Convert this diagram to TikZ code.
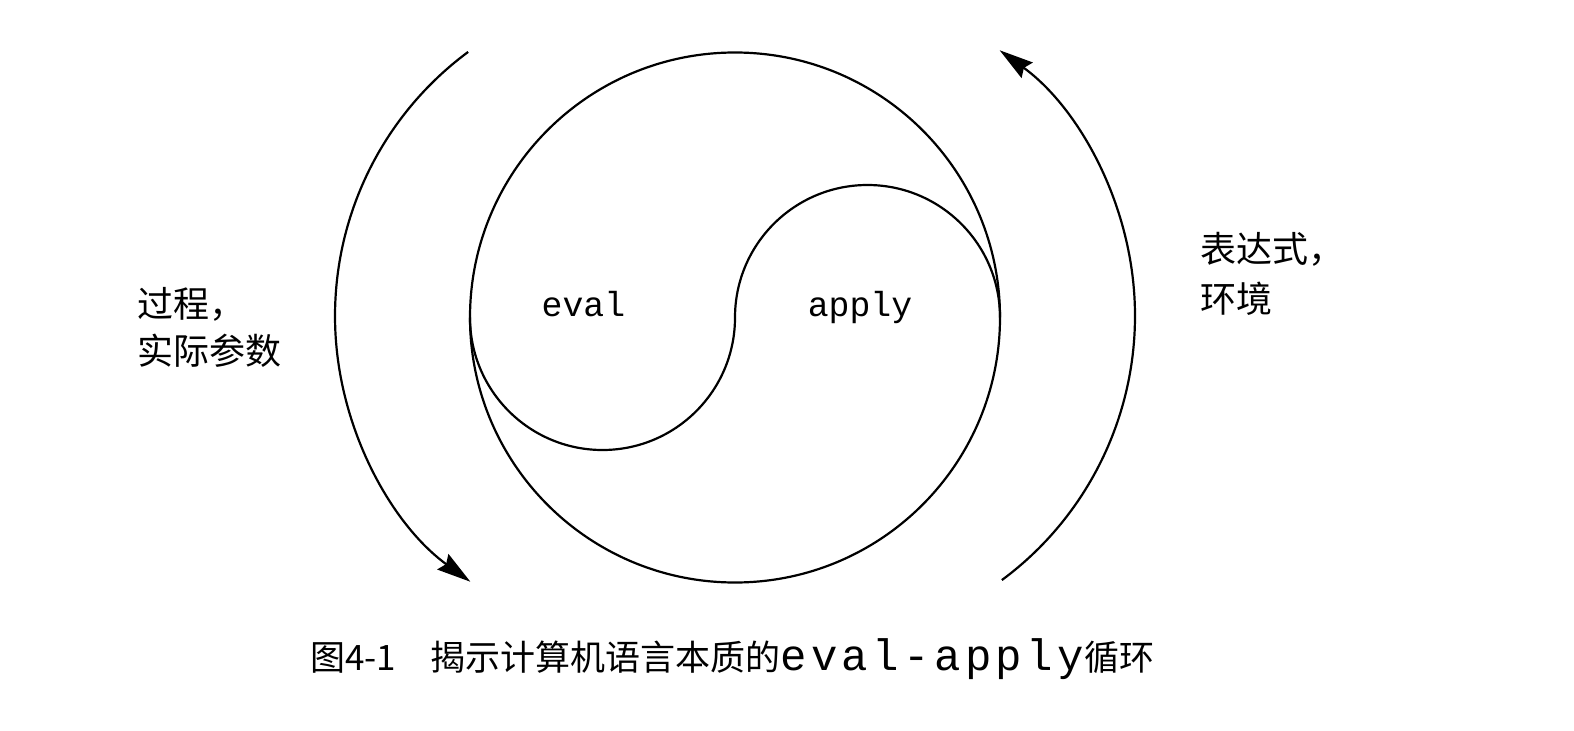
\documentclass[tikz,border=0pt]{standalone}
\usepackage{fontspec}
\setmainfont{Liberation Serif}
\setmonofont{Liberation Mono}
\newfontfamily\cjk{Noto Sans CJK SC}
\newfontfamily\capmono[LetterSpace=10]{Liberation Mono}
\usetikzlibrary{arrows.meta}

\begin{document}
\begin{tikzpicture}[x=0.5pt,y=0.5pt,
  curve/.style={line width=1.1pt},
  flow/.style={line width=1.1pt, -{Stealth[length=17pt,width=9.5pt,inset=2pt]}},
  cjklabel/.style={font=\cjk\fontsize{18pt}{24pt}\selectfont, inner sep=0pt, anchor=base west},
  codelabel/.style={font=\ttfamily\fontsize{17.4pt}{20pt}\selectfont, inner sep=0pt, anchor=base},
  captext/.style={font=\cjk\fontsize{17.5pt}{20pt}\selectfont, inner sep=0pt, anchor=base west}
]
\useasboundingbox (0,0) rectangle (1574,730);
% outer circle
\coordinate (C) at (735,412.5);
\draw[curve] (C) circle[radius=265];
% S curve
\coordinate (Sl) at (470,412.5);
\draw[curve] (Sl) arc[start angle=180,end angle=360,radius=132.5]
                  arc[start angle=180,end angle=0,radius=132.5];
% flow arrows
\coordinate (La) at ({663.5+328.5*cos(126.5)},{414+328.5*sin(126.5)});
\draw[flow] (La) arc[start angle=126.5,end angle=234,radius=328.5];
\coordinate (Ra) at ({806.5+328.5*cos(-53.5)},{414+328.5*sin(-53.5)});
\draw[flow] (Ra) arc[start angle=-53.5,end angle=54,radius=328.5];
% labels
\node[codelabel] (ev) at (583.5,414) {eval};
\node[codelabel] (ap) at (860,414) {apply};
\node[cjklabel] (p1) at (137,413) {过程，};
\node[cjklabel] (p2) at (137,366) {实际参数};
\node[cjklabel] (e1) at (1200,467.5) {表达式，};
\node[cjklabel] (e2) at (1200,418) {环境};
% caption
\node[captext] (cap) at (310,60) {图4-1\hspace{17pt}揭示计算机语言本质的{\capmono\fontsize{22pt}{22pt}\selectfont eval-apply}循环};
\end{tikzpicture}
\end{document}
